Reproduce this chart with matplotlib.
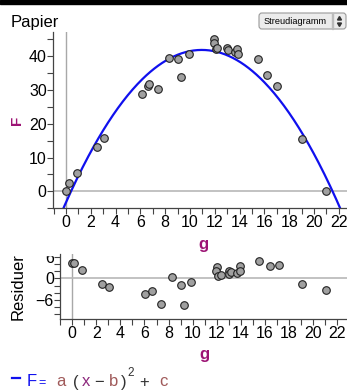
import matplotlib
matplotlib.use("Agg")
import matplotlib.pyplot as plt
import numpy as np
from matplotlib.patches import FancyBboxPatch, Rectangle, Polygon

plt.rcParams['font.family'] = ['Liberation Sans', 'DejaVu Sans']

# ---- data ----
g = [0.0, 0.27, 0.86, 2.5, 3.1, 6.1, 6.6, 6.7, 7.4, 8.3, 9.0, 9.3, 9.9,
     11.9, 11.9, 12.1, 12.2, 13.0, 13.1, 13.6, 13.8, 13.9, 15.5, 16.2, 17.0, 19.0, 21.0]
F = [0.0, 2.35, 5.4, 13.0, 15.9, 28.8, 31.2, 31.8, 30.4, 39.5, 39.2, 33.7, 40.5,
     45.0, 43.8, 42.0, 42.3, 42.5, 41.8, 41.2, 42.0, 40.7, 39.2, 34.4, 31.2, 15.4, 0.1]
res_g = [-0.05, 0.17, 0.78, 2.44, 3.08, 6.04, 6.65, 7.35, 8.26, 9.04, 9.31, 9.87,
         12.0, 11.95, 12.08, 12.33, 13.0, 13.0, 13.2, 13.66, 13.94, 13.94,
         15.55, 16.4, 17.2, 19.1, 21.1]
residuals = [4.2, 4.2, 2.4, -1.7, -2.5, -4.45, -3.5, -7.0, 0.3, -1.8, -7.3, -1.1,
             3.2, 2.1, 0.7, 0.9, 2.1, 1.3, 1.8, 1.6, 3.5, 1.9,
             4.9, 3.4, 3.7, -1.7, -3.25]
a_fit, b_fit, c_fit = -0.3756, 10.95, 41.8
x_ticks = list(range(0, 23, 2))
F_ticks = [0, 10, 20, 30, 40]
res_ticks = [-6, 0, 6]

W, H = 347, 391
fig = plt.figure(figsize=(W / 100, H / 100), dpi=100)

def fx(x):
    return x / W

def fy(y):
    return 1 - y / H

LAB = '#9c1374'
TICKC = '#444444'
FS = 11.5

# top black bar
fig.patches.append(Rectangle((0, fy(3.5)), 1, 3.5 / H, transform=fig.transFigure,
                             color='black', zorder=10))
fig.text(fx(11), fy(27), 'Papier', fontsize=12, ha='left', va='baseline')

# dropdown box
box = FancyBboxPatch((fx(259), fy(29)), fx(87), 16 / H, transform=fig.transFigure,
                     boxstyle='round,pad=0,rounding_size=0.008', facecolor='#ececec',
                     edgecolor='#9a9a9a', lw=0.8)
fig.patches.append(box)
fig.text(fx(264), fy(21.5), 'Streudiagramm', fontsize=6.6, ha='left', va='center')
fig.patches.append(Rectangle((fx(332), fy(29)), 0.6 / W, 16 / H,
                             transform=fig.transFigure, color='#bbbbbb'))
fig.patches.append(Polygon([(fx(337.5), fy(20)), (fx(341.5), fy(20)), (fx(339.5), fy(16.5))],
                           closed=True, transform=fig.transFigure, color='#333333'))
fig.patches.append(Polygon([(fx(337.5), fy(23)), (fx(341.5), fy(23)), (fx(339.5), fy(26.5))],
                           closed=True, transform=fig.transFigure, color='#333333'))


def style(ax):
    for s in ['top', 'right']:
        ax.spines[s].set_visible(False)
    for s in ['left', 'bottom']:
        ax.spines[s].set_color(TICKC)
        ax.spines[s].set_linewidth(0.9)
    ax.tick_params(which='both', direction='out', length=4, width=0.8,
                   color=TICKC, labelsize=FS)
    ax.tick_params(axis='x', pad=1)
    ax.tick_params(axis='y', pad=0.5)
    ax.axvline(0, color='#a8a8a8', lw=1.0, zorder=0)
    ax.axhline(0, color='#b8b8b8', lw=1.2, zorder=0)
    ax.patch.set_alpha(0)


# ---- top plot ----
ax = fig.add_axes([fx(53), fy(208.3), fx(347 - 53), (208.3 - 32) / H])
style(ax)
ax.set_xlim(-1.05, 22.66)
ax.set_ylim(-2.83, 47.1)
xs = np.linspace(-1.05, 22.66, 300)
ax.plot(xs, a_fit * (xs - b_fit) ** 2 + c_fit, color='#1010ee', lw=1.6, zorder=2)
ax.scatter(g, F, s=30, facecolor='#a0a0a0', edgecolor='#222222', linewidths=0.8, zorder=3)
ax.set_xticks(x_ticks)
ax.set_xticks(range(-1, 23), minor=True)
ax.set_yticks(F_ticks)
ax.set_yticks([-5, 5, 15, 25, 35, 45], minor=True)

fig.text(fx(17), fy(120), 'F', rotation=90, fontsize=11, fontweight='bold',
         color=LAB, ha='center', va='center')
fig.text(fx(203), fy(245), 'g', fontsize=12, fontweight='bold', color=LAB,
         ha='center', va='center')

# ---- residual plot ----
ax2 = fig.add_axes([fx(60), fy(319), fx(347 - 60), (319 - 254) / H])
style(ax2)
ax2.set_xlim(-1.02, 22.83)
ax2.set_ylim(-11.3, 6.75)
ax2.scatter(res_g, residuals, s=30, facecolor='#a0a0a0', edgecolor='#222222',
            linewidths=0.8, zorder=3)
ax2.set_xticks(x_ticks)
ax2.set_xticks(range(-1, 23), minor=True)
ax2.set_yticks(res_ticks)
ax2.set_yticks([-10, -8, -4, -2, 2, 4], minor=True)
# the top of the "6" label is cut off in the reference
fig.patches.append(Rectangle((fx(38), fy(254.5)), fx(20), 9 / H,
                             transform=fig.transFigure, color='white', zorder=5))

fig.text(fx(18), fy(287), 'Residuer', rotation=90, fontsize=12,
         ha='center', va='center')
fig.text(fx(204), fy(355), 'g', fontsize=12, fontweight='bold', color=LAB,
         ha='center', va='center')

# ---- legend / equation ----
fig.lines.append(plt.Line2D([fx(12), fx(20)], [fy(377.7), fy(377.7)],
                            transform=fig.transFigure, color='#1010ee', lw=1.6))
yb = fy(386.5)
parts = [
    (27, 'F', '#1010ee', 12, yb),
    (38, '=', '#1010ee', 9, yb),
    (56, 'a', '#a05a5a', 12, yb),
    (73, '(', '#333333', 12, yb),
    (82, 'x', '#8e2a7e', 12, yb),
    (94, '\u2212', '#333333', 12, yb),
    (109, 'b', '#a05a5a', 12, yb),
    (121, ')', '#333333', 12, yb),
    (127, '2', '#333333', 8.5, fy(375.5)),
    (139, '+', '#333333', 12, yb),
    (159, 'c', '#a05a5a', 12, yb),
]
for x, s, c, fs, y in parts:
    fig.text(fx(x), y, s, color=c, fontsize=fs, ha='left', va='baseline')

fig.savefig('out.png', dpi=100)
